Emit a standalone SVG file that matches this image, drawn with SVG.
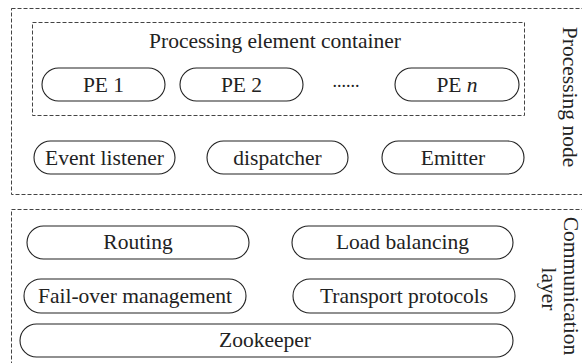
<svg xmlns="http://www.w3.org/2000/svg" width="582" height="363" viewBox="0 0 582 363">
<style>
.dash{fill:none;stroke:#444;stroke-width:1;stroke-dasharray:4 2}
.pill{fill:#fff;stroke:#222;stroke-width:1.1}
text{font-family:"Liberation Serif","Times New Roman",serif;font-size:21.5px;fill:#222;text-anchor:middle}
</style>
<rect width="582" height="363" fill="#fff"/>
<g id="processing-node">
<rect class="dash" x="11.5" y="8.5" width="580" height="186"/>
<text transform="translate(563,97) rotate(90)">Processing node</text>
</g>
<g id="pe-container">
<rect class="dash" x="32.5" y="22.5" width="492" height="93"/>
<text x="275" y="48">Processing element container</text>
</g>
<g id="pe1"><rect class="pill" x="42" y="68" width="123" height="33" rx="16.5"/><text x="103.5" y="91.5">PE 1</text></g>
<g id="pe2"><rect class="pill" x="180" y="68" width="123" height="33" rx="16.5"/><text x="241.5" y="91.5">PE 2</text></g>
<g id="dots"><text x="346" y="87" style="font-size:18px">......</text></g>
<g id="pen"><rect class="pill" x="395" y="68" width="124" height="33" rx="16.5"/><text x="457" y="91.5">PE <tspan font-style="italic">n</tspan></text></g>
<g id="event-listener"><rect class="pill" x="34" y="141" width="141" height="33" rx="16.5"/><text x="104.5" y="165">Event listener</text></g>
<g id="dispatcher"><rect class="pill" x="207" y="141" width="141" height="33" rx="16.5"/><text x="277.5" y="165">dispatcher</text></g>
<g id="emitter"><rect class="pill" x="382" y="141" width="142" height="33" rx="16.5"/><text x="453" y="165">Emitter</text></g>
<g id="communication-layer">
<rect class="dash" x="11.5" y="209.5" width="580" height="170"/>
<text transform="translate(564,286) rotate(90)">Communication</text>
<text transform="translate(542,289) rotate(90)">layer</text>
</g>
<g id="routing"><rect class="pill" x="27" y="226" width="222" height="33" rx="16.5"/><text x="138" y="249">Routing</text></g>
<g id="load-balancing"><rect class="pill" x="292" y="226" width="221" height="33" rx="16.5"/><text x="402.5" y="249">Load balancing</text></g>
<g id="failover"><rect class="pill" x="24" y="279" width="222" height="34" rx="17"/><text x="135" y="303">Fail-over management</text></g>
<g id="transport"><rect class="pill" x="293" y="279" width="222" height="34" rx="17"/><text x="404" y="303">Transport protocols</text></g>
<g id="zookeeper"><rect class="pill" x="20" y="324" width="493" height="33" rx="16.5"/><text x="265" y="347">Zookeeper</text></g>
<g id="connectors"></g>
</svg>
